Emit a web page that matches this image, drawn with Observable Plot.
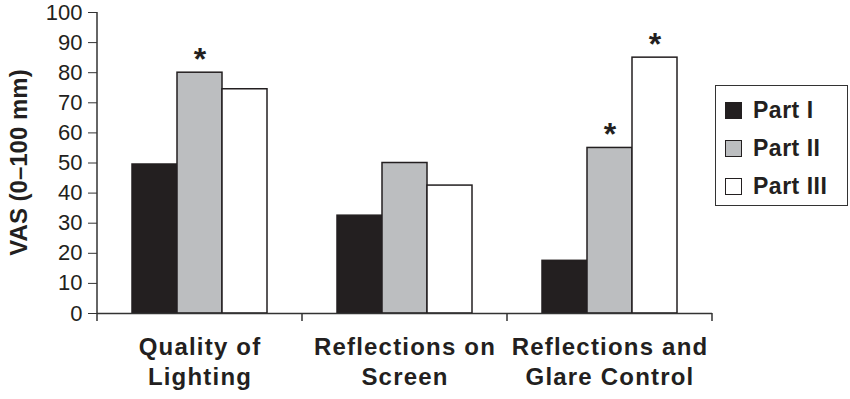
<!DOCTYPE html>
<html>
<head>
<meta charset="utf-8">
<script src="https://cdn.jsdelivr.net/npm/d3@7"></script>
<script src="https://cdn.jsdelivr.net/npm/@observablehq/plot@0.6"></script>
<style>
  html, body { margin: 0; padding: 0; background: #fff; }
  #wrap { position: relative; width: 850px; height: 399px; overflow: hidden; font-family: "Liberation Sans", Arial, sans-serif; }
  #legend { position: absolute; left: 715px; top: 85px; width: 131px; height: 114px; border: 1.5px solid #333; box-sizing: content-box; padding-top: 5px; }
  .row { height: 38px; display: flex; align-items: center; padding-left: 9px; font-weight: bold; font-size: 23px; letter-spacing: 0.5px; color: #231f20; }
  .sw { width: 15px; height: 15px; border: 1.5px solid #231f20; margin-right: 11px; }
</style>
</head>
<body>
<div id="wrap"><div id="chart"></div><div id="legend"></div></div>
<script>
const categories = ["Quality of Lighting", "Reflections on Screen", "Reflections and Glare Control"];
const categoryLabels = ["Quality of\nLighting", "Reflections on\nScreen", "Reflections and\nGlare Control"];
const parts = ["Part I", "Part II", "Part III"];
const partI = [49.5, 32.5, 17.5];
const partII = [80, 50, 55];
const partIII = [74.5, 42.5, 85];
const starred = [["Quality of Lighting", "Part II"], ["Reflections and Glare Control", "Part II"], ["Reflections and Glare Control", "Part III"]];
const partColors = ["#231f20", "#bcbec0", "#ffffff"];
const yTicks = [0, 10, 20, 30, 40, 50, 60, 70, 80, 90, 100];
const yLabel = "VAS (0–100 mm)";

const series = [partI, partII, partIII];
const data = [];
categories.forEach((c, i) => parts.forEach((p, j) => data.push({category: c, part: p, value: series[j][i]})));
const stars = starred.map(([c, p]) => data.find(d => d.category === c && d.part === p));
const labelOf = new Map(categories.map((c, i) => [c, categoryLabels[i]]));

const font = "'Liberation Sans', Arial, sans-serif";
const plot = Plot.plot({
  width: 850,
  height: 399,
  marginLeft: 96,
  marginRight: 137,
  marginTop: 12,
  marginBottom: 86,
  style: {fontFamily: font, background: "#fff", color: "#231f20"},
  fx: {domain: categories, padding: 0},
  x: {domain: parts, paddingInner: 0, paddingOuter: 0.74, axis: null},
  y: {domain: [0, 100]},
  color: {domain: parts, range: partColors},
  marks: [
    Plot.barY(data, {fx: "category", x: "part", y: "value", fill: "part", stroke: "#231f20", strokeWidth: 1.5}),
    Plot.ruleY([0], {stroke: "#333", strokeWidth: 1.5}),
    Plot.text(stars, {fx: "category", x: "part", y: "value", text: () => "*", fontSize: 32, fontWeight: "bold", lineAnchor: "bottom", dy: -3, fill: "#231f20"}),
    Plot.axisY({ticks: yTicks, tickSize: 9, tickPadding: 6, fontSize: 22, label: null, stroke: "#333", color: "#231f20"}),
    Plot.axisFx({anchor: "bottom", tickSize: 0, tickPadding: 21, fontSize: 24, fontWeight: "bold", lineHeight: 1.22, label: null, tickFormat: c => labelOf.get(c), color: "#231f20"})
  ]
});
document.getElementById("chart").appendChild(plot);

const fx = plot.scale("fx"), y = plot.scale("y");
const svg = d3.select(plot);
// slightly wider bold category labels, as in the reference
svg.selectAll("g[aria-label='fx-axis tick label'] text").attr("letter-spacing", 1.2);
// y axis line
const x0 = fx.apply(categories[0]);
svg.append("line").attr("x1", x0).attr("x2", x0).attr("y1", y.apply(0) + 0.5).attr("y2", y.apply(100))
  .attr("stroke", "#333").attr("stroke-width", 1.5);
// group boundary ticks
const bounds = categories.map(c => fx.apply(c)).concat([fx.apply(categories[categories.length - 1]) + fx.bandwidth]);
svg.append("g").selectAll("line").data(bounds).join("line")
  .attr("x1", d => d).attr("x2", d => d).attr("y1", y.apply(0)).attr("y2", y.apply(0) + 8)
  .attr("stroke", "#333").attr("stroke-width", 1.5);
// y axis title
const yMid = (y.apply(0) + y.apply(100)) / 2;
svg.append("text").text(yLabel)
  .attr("transform", `translate(27,${yMid}) rotate(-90)`)
  .attr("text-anchor", "middle").attr("font-size", 24).attr("font-weight", "bold")
  .attr("font-family", font).attr("fill", "#231f20");

// legend
const legend = d3.select("#legend");
parts.forEach((p, i) => {
  const row = legend.append("div").attr("class", "row");
  row.append("div").attr("class", "sw").style("background", partColors[i]);
  row.append("span").text(p);
});
</script>
</body>
</html>
